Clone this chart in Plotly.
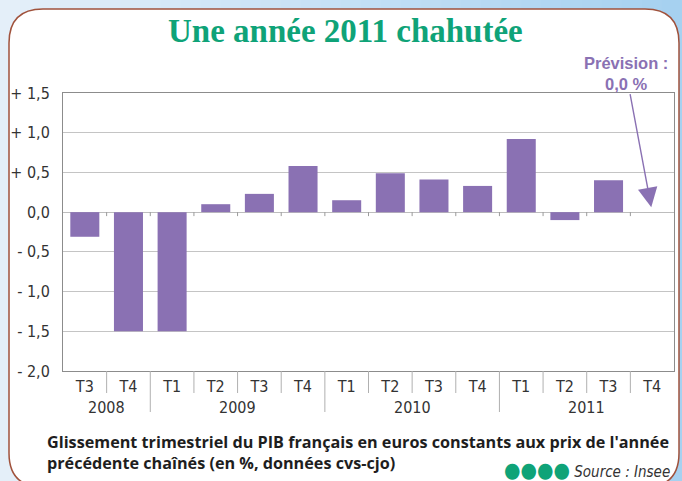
import plotly.graph_objects as go

# ---- data ----
years = ["2008", "2008", "2009", "2009", "2009", "2009", "2010", "2010", "2010", "2010",
         "2011", "2011", "2011", "2011"]
quarters = ["T3", "T4", "T1", "T2", "T3", "T4", "T1", "T2", "T3", "T4", "T1", "T2", "T3", "T4"]
values = [-0.31, -1.5, -1.5, 0.10, 0.23, 0.58, 0.15, 0.49, 0.41, 0.33, 0.92, -0.10, 0.40, None]
forecast_value = 0.0
y_tickvals = [1.5, 1.0, 0.5, 0.0, -0.5, -1.0, -1.5, -2.0]
y_ticktext = ["+ 1,5", "+ 1,0", "+ 0,5", "0,0", "- 0,5", "- 1,0", "- 1,5", "- 2,0"]

title = "Une année 2011 chahutée"
caption = ("Glissement trimestriel du PIB français en euros constants aux prix de l'année<br>"
           "précédente chaînés (en %, données cvs-cjo)")
source = "Source : Insee"

# ---- geometry helpers (pixel -> paper) ----
W, H = 682, 481
L, R, T, B = 63, 674, 93, 371


def px(x):
    return (x - L) / (R - L)


def py(y):
    return (B - y) / (B - T)


PURPLE = "#8A71B3"
GREEN = "#0FA378"
n = len(quarters)
idx = list(range(n))

fig = go.Figure()
fig.add_trace(go.Bar(
    x=idx, y=values, marker_color=PURPLE, marker_line_width=0,
    hoverinfo="skip", showlegend=False,
))

shapes = []
# light-blue background gradient (decorative)
c0, c1 = (0xE4, 0xEF, 0xF9), (0xA6, 0xD1, 0xF0)
nb = 34
for k in range(nb):
    t = k / (nb - 1)
    col = "rgb({},{},{})".format(*[round(a + (b - a) * t) for a, b in zip(c0, c1)])
    shapes.append(dict(type="rect", xref="paper", yref="paper", layer="below",
                       x0=px(W * k / nb), x1=px(W * (k + 1) / nb + 1), y0=py(H + 2), y1=py(-2),
                       fillcolor=col, line_width=0))
# rounded white frame
bx0, by0, bx1, by1, r = 9, 9, 679, 487, 34
path = (f"M {px(bx0)},{py(by0 + r)} Q {px(bx0)},{py(by0)} {px(bx0 + r)},{py(by0)} "
        f"L {px(bx1 - r)},{py(by0)} Q {px(bx1)},{py(by0)} {px(bx1)},{py(by0 + r)} "
        f"L {px(bx1)},{py(by1 - r)} Q {px(bx1)},{py(by1)} {px(bx1 - r)},{py(by1)} "
        f"L {px(bx0 + r)},{py(by1)} Q {px(bx0)},{py(by1)} {px(bx0)},{py(by1 - r)} Z")
shapes.append(dict(type="path", path=path, xref="paper", yref="paper", layer="below",
                   fillcolor="white", line=dict(color="#A0523C", width=1.5)))

# small ticks on zero line, dividers between quarter labels and between years
for i in range(n - 1):
    shapes.append(dict(type="line", xref="x", yref="y", x0=i + 0.5, x1=i + 0.5,
                       y0=0, y1=-0.05, line=dict(color="#9A9A9A", width=1)))
    new_year = years[i] != years[i + 1]
    shapes.append(dict(type="line", xref="x", yref="paper", x0=i + 0.5, x1=i + 0.5,
                       y0=0, y1=py(412 if new_year else 393),
                       line=dict(color="#B0B0B0", width=1)))

annotations = [
    dict(text=f"<b>{title}</b>", x=px(345), y=py(31), xref="paper", yref="paper",
         showarrow=False, xanchor="center", yanchor="middle",
         font=dict(family="Liberation Serif, serif", size=33, color=GREEN)),
    dict(text="<b>Prévision :<br>0,0 %</b>", x=n - 1, y=forecast_value, xref="x", yref="y",
         showarrow=True, arrowhead=2, arrowsize=2.8, arrowwidth=1.4, arrowcolor=PURPLE,
         standoff=5, ax=-26, ay=-139, align="center",
         font=dict(family="Liberation Sans, Arial, sans-serif", size=16.5, color=PURPLE)),
    dict(text=caption, x=px(45), y=py(452), xref="paper", yref="paper", showarrow=False,
         xanchor="left", yanchor="middle", align="left",
         font=dict(family="Open Sans, sans-serif", size=16.2, color="#1E1E1E", weight="bold")),
    dict(text=f"<span style='color:{GREEN};font-size:21px'>●●●●</span> <i>{source}</i>",
         x=px(672), y=py(470), xref="paper", yref="paper", showarrow=False,
         xanchor="right", yanchor="middle",
         font=dict(family="DejaVu Sans Condensed, Roboto, sans-serif",
                   size=15, color="#333333")),
]

axis_font = dict(family="DejaVu Sans Condensed, Roboto, sans-serif", size=16, color="#333333")

# year labels centred under their quarters
for y in dict.fromkeys(years):
    pos = [i for i in idx if years[i] == y]
    annotations.append(dict(text=y, x=sum(pos) / len(pos), y=py(407), xref="x", yref="paper",
                            showarrow=False, xanchor="center", yanchor="middle",
                            font=axis_font))

fig.update_layout(
    width=W, height=H,
    margin=dict(l=L, r=W - R, t=T, b=H - B, pad=0),
    paper_bgcolor="#D2E7F7", plot_bgcolor="white",
    bargap=0.335,
    xaxis=dict(range=[-0.5, n - 0.5], tickvals=idx, ticktext=quarters, showline=True,
               linecolor="#8C8C8C", mirror=True, ticks="", showgrid=False, zeroline=False,
               tickfont=axis_font, ticklabelstandoff=1, automargin=False),
    yaxis=dict(range=[-2.0, 1.5], tickvals=y_tickvals, ticktext=y_ticktext, showgrid=True,
               gridcolor="#C4C4C4", gridwidth=1.3, zeroline=True, zerolinecolor="#BDBDBD",
               zerolinewidth=1.3, showline=True, linecolor="#8C8C8C", mirror=True, ticks="",
               tickfont=axis_font, ticklabelstandoff=9, automargin=False),
    shapes=shapes, annotations=annotations,
)

fig.write_html("out.html", config={"displayModeBar": False},
               post_script="document.body.style.margin='0';")
